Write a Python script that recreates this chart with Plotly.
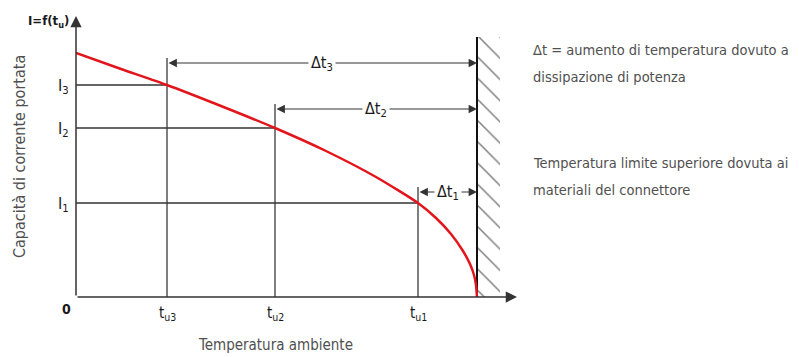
import plotly.graph_objects as go

# Ambient temperature (arbitrary units) and the current capacity curve I = f(t_u)
temp = [0, 45, 91, 145, 199, 250, 300, 342, 360, 375, 387, 394, 398, 400, 401]
current = [244, 228, 212, 191, 169, 146, 120, 94, 79, 63, 46, 33, 22, 12, 0]

# Reference operating points
t_points = [91, 199, 342]          # t_u3, t_u2, t_u1
i_points = [212, 169, 94]          # I3, I2, I1
t_names = ["t<sub>u3</sub>", "t<sub>u2</sub>", "t<sub>u1</sub>"]
i_names = ["I<sub>3</sub>", "I<sub>2</sub>", "I<sub>1</sub>"]
dt_names = ["Δt<sub>3</sub>", "Δt<sub>2</sub>", "Δt<sub>1</sub>"]
dt_levels = [234, 188, 105]        # height of each Δt dimension line

t_limit = 401                      # upper temperature limit (connector materials)
hatch_width = 23
hatch_top = 260
x_max, y_max = 441, 281

W, H = 799, 357
L, R, T, B = 76, 282, 16, 60

FONT = "DejaVu Sans Condensed, DejaVu Sans, sans-serif"
RED = "#e3151c"
DARK = "#1a1a1a"
GREY = "#505050"
LINE = "#555555"

fig = go.Figure()

# hatched zone beyond the temperature limit
fig.add_trace(go.Scatter(
    x=[t_limit, t_limit + hatch_width, t_limit + hatch_width, t_limit, t_limit],
    y=[0, 0, hatch_top, hatch_top, 0],
    fill="toself", mode="lines", line=dict(width=0),
    fillcolor="white",
    fillpattern=dict(shape="\\", size=15, solidity=0.1, fgcolor="#000000", bgcolor="white"),
    hoverinfo="skip", showlegend=False))

# reference lines for each operating point
for t, i, lvl in zip(t_points, i_points, dt_levels):
    fig.add_trace(go.Scatter(x=[t, t], y=[0, lvl + 5], mode="lines",
                             line=dict(color=LINE, width=1.5),
                             hoverinfo="skip", showlegend=False))
    fig.add_trace(go.Scatter(x=[0, t], y=[i, i], mode="lines",
                             line=dict(color="#333333", width=1.3),
                             hoverinfo="skip", showlegend=False))

# limit wall
fig.add_trace(go.Scatter(x=[t_limit, t_limit], y=[0, hatch_top], mode="lines",
                         line=dict(color="#111111", width=2),
                         hoverinfo="skip", showlegend=False))

# capacity curve
fig.add_trace(go.Scatter(x=temp, y=current, mode="lines",
                         line=dict(color=RED, width=2.5, shape="spline", smoothing=0.6),
                         hoverinfo="skip", showlegend=False))

ann = []

# axes drawn as arrows
ann.append(dict(x=x_max, y=0, ax=0, ay=0, xref="x", yref="y", axref="x", ayref="y",
                text="", showarrow=True, arrowhead=2, arrowsize=1.5, arrowwidth=1.5,
                arrowcolor="#333333", standoff=0))
ann.append(dict(x=0, y=y_max, ax=0, ay=0, xref="x", yref="y", axref="x", ayref="y",
                text="", showarrow=True, arrowhead=2, arrowsize=1.5, arrowwidth=1.5,
                arrowcolor="#333333", standoff=0))

# Δt dimension lines
for t, lvl in zip(t_points, dt_levels):
    ann.append(dict(x=t_limit, y=lvl, ax=t, ay=lvl, xref="x", yref="y", axref="x", ayref="y",
                    text="", showarrow=True, arrowhead=2, arrowside="end+start",
                    arrowsize=1.4, arrowwidth=1.2, arrowcolor="#333333", standoff=0,
                    startstandoff=0))
for t, lvl, name in zip(t_points, dt_levels, dt_names):
    ann.append(dict(x=(t + t_limit) / 2, y=lvl, xref="x", yref="y", text=name,
                    showarrow=False, bgcolor="white", borderpad=2,
                    font=dict(family=FONT, size=16, color=DARK)))

# tick-style labels
for t, name in zip(t_points, t_names):
    ann.append(dict(x=t, y=0, xref="x", yref="y", yshift=-16, text=name, showarrow=False,
                    font=dict(family=FONT, size=15, color=DARK)))
for i, name in zip(i_points, i_names):
    ann.append(dict(x=0, y=i, xref="x", yref="y", xshift=-5, yshift=-1, text=name,
                    xanchor="right", showarrow=False,
                    font=dict(family=FONT, size=16, color=DARK)))
ann.append(dict(x=0, y=0, xref="x", yref="y", xshift=-3, yshift=-12, text="0",
                xanchor="right", showarrow=False,
                font=dict(family=FONT, size=14, color=DARK, weight="bold")))
ann.append(dict(x=0, y=y_max, xref="x", yref="y", xshift=-5, yshift=-5,
                text="I=f(t<sub>u</sub>)", xanchor="right", showarrow=False,
                font=dict(family=FONT, size=13, color=DARK, weight="bold")))

# axis titles
ann.append(dict(x=199, y=0, xref="x", yref="y", yshift=-48, text="Temperatura ambiente",
                showarrow=False, font=dict(family=FONT, size=15, color=GREY)))
ann.append(dict(x=0, y=140, xref="x", yref="y", xshift=-57, textangle=-90,
                text="Capacità di corrente portata", showarrow=False,
                font=dict(family=FONT, size=16, color=GREY)))

# notes on the right
notes = [("Δt = aumento di temperatura dovuto a", 247),
         ("dissipazione di potenza", 220),
         ("Temperatura limite superiore dovuta ai", 134),
         ("materiali del connettore", 107)]
for txt, y in notes:
    ann.append(dict(x=x_max, y=y, xref="x", yref="y", xshift=14, text=txt,
                    xanchor="left", showarrow=False,
                    font=dict(family=FONT, size=14.5, color=GREY)))

fig.update_layout(
    width=W, height=H,
    margin=dict(l=L, r=R, t=T, b=B),
    paper_bgcolor="white", plot_bgcolor="white",
    font=dict(family=FONT, size=15, color=DARK),
    xaxis=dict(range=[0, x_max], visible=False, fixedrange=True),
    yaxis=dict(range=[0, y_max], visible=False, fixedrange=True),
    annotations=ann,
    showlegend=False,
)

fig.write_html("out.html")
